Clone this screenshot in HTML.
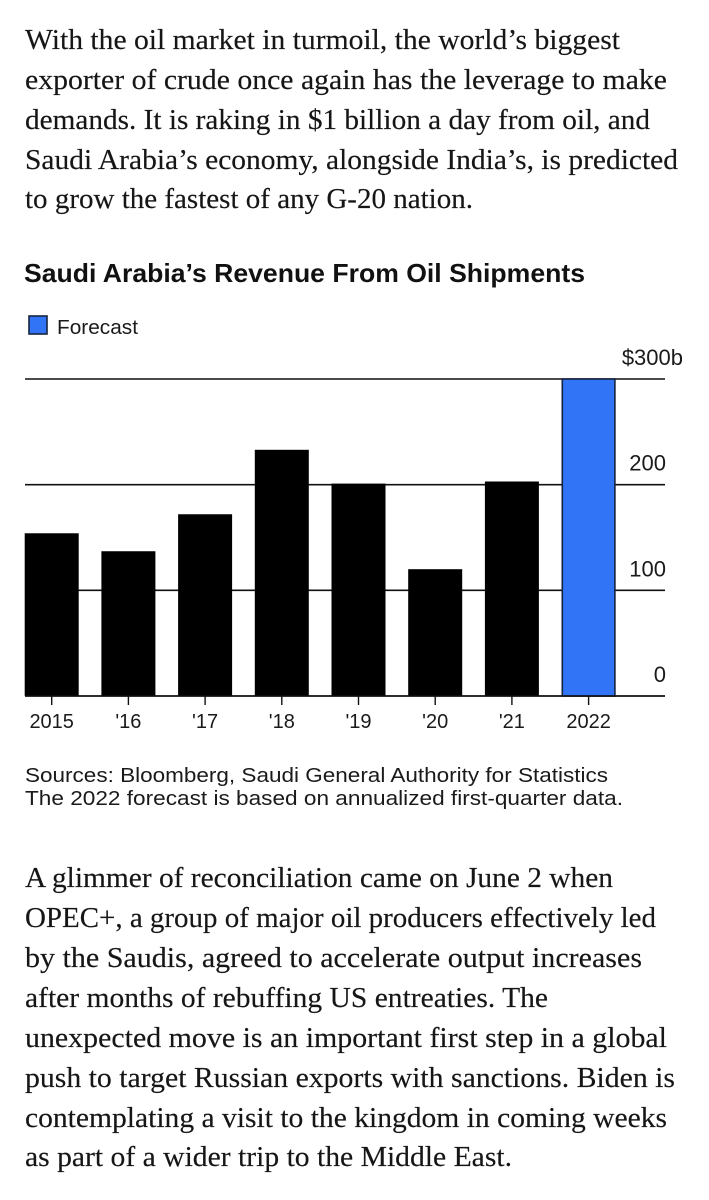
<!DOCTYPE html>
<html lang="en">
<head>
<meta charset="utf-8">
<title>Saudi Arabia's Revenue From Oil Shipments</title>
<style>
html,body{margin:0;padding:0;background:#fff;width:709px;height:1200px;overflow:hidden}
svg{display:block;position:absolute;left:0;top:0}
.prose{font-family:"Liberation Serif",serif;font-size:28px;fill:#161616;stroke:#161616;stroke-width:.15}
.sans{font-family:"Liberation Sans",sans-serif;fill:#1a1a1a}
</style>
</head>
<body>
<svg width="709" height="1200" viewBox="0 0 709 1200" xmlns="http://www.w3.org/2000/svg">
  <g>
    <text class="prose" x="25" y="49" textLength="595" lengthAdjust="spacingAndGlyphs">With the oil market in turmoil, the world’s biggest</text>
    <text class="prose" x="25" y="89" textLength="642" lengthAdjust="spacingAndGlyphs">exporter of crude once again has the leverage to make</text>
    <text class="prose" x="25" y="129" textLength="625" lengthAdjust="spacingAndGlyphs">demands. It is raking in $1 billion a day from oil, and</text>
    <text class="prose" x="25" y="169" textLength="653" lengthAdjust="spacingAndGlyphs">Saudi Arabia’s economy, alongside India’s, is predicted</text>
    <text class="prose" x="25" y="208" textLength="448" lengthAdjust="spacingAndGlyphs">to grow the fastest of any G-20 nation.</text>
  </g>

  <text class="sans" x="24" y="282" font-size="26" font-weight="700" textLength="561" lengthAdjust="spacingAndGlyphs" style="fill:#111">Saudi Arabia’s Revenue From Oil Shipments</text>

  <g>
    <rect x="29" y="316" width="18" height="18" fill="#3274f6" stroke="#16233f" stroke-width="1.6"></rect>
    <text class="sans" x="57" y="334" font-size="20.5" textLength="81" lengthAdjust="spacingAndGlyphs">Forecast</text>
  </g>

  <g id="chart"></g>

  <g>
    <text class="sans" x="25" y="782" font-size="20" textLength="583" lengthAdjust="spacingAndGlyphs">Sources: Bloomberg, Saudi General Authority for Statistics</text>
    <text class="sans" x="25" y="805" font-size="20" textLength="598" lengthAdjust="spacingAndGlyphs">The 2022 forecast is based on annualized first-quarter data.</text>
  </g>

  <g>
    <text class="prose" x="25" y="887" textLength="588" lengthAdjust="spacingAndGlyphs">A glimmer of reconciliation came on June 2 when</text>
    <text class="prose" x="25" y="927" textLength="631" lengthAdjust="spacingAndGlyphs">OPEC+, a group of major oil producers effectively led</text>
    <text class="prose" x="25" y="967" textLength="617" lengthAdjust="spacingAndGlyphs">by the Saudis, agreed to accelerate output increases</text>
    <text class="prose" x="25" y="1007" textLength="523" lengthAdjust="spacingAndGlyphs">after months of rebuffing US entreaties. The</text>
    <text class="prose" x="25" y="1047" textLength="642" lengthAdjust="spacingAndGlyphs">unexpected move is an important first step in a global</text>
    <text class="prose" x="25" y="1087" textLength="650" lengthAdjust="spacingAndGlyphs">push to target Russian exports with sanctions. Biden is</text>
    <text class="prose" x="25" y="1127" textLength="642" lengthAdjust="spacingAndGlyphs">contemplating a visit to the kingdom in coming weeks</text>
    <text class="prose" x="25" y="1166" textLength="487" lengthAdjust="spacingAndGlyphs">as part of a wider trip to the Middle East.</text>
  </g>
</svg>
<script>
var categories = ["2015", "'16", "'17", "'18", "'19", "'20", "'21", "2022"];
var revenue = [154, 137, 172, 233, 201, 120, 203, 300];
var isForecast = [false, false, false, false, false, false, false, true];
var yTicks = [0, 100, 200, 300];
var yTickLabels = ["0", "100", "200", "$300b"];

var NS = 'http://www.w3.org/2000/svg';
var chart = document.getElementById('chart');
var plotLeft = 25, plotRight = 665, plotTop = 379, plotBottom = 696;
var yMax = 300, bandStep = 76.7, barWidth = 54, firstCenter = 51.7;

function yScale(v) { return plotBottom - (v / yMax) * (plotBottom - plotTop); }
function xScale(i) { return firstCenter + i * bandStep; }
function make(tag, attrs) {
  var el = document.createElementNS(NS, tag);
  Object.keys(attrs).forEach(function (k) { el.setAttribute(k, attrs[k]); });
  chart.appendChild(el);
  return el;
}

yTicks.forEach(function (t, i) {
  var y = yScale(t);
  var line = make('line', { x1: plotLeft, x2: plotRight, y1: y, y2: y, stroke: '#111', 'stroke-width': 1.6 });
  
  
  var hasUnit = /[^0-9]$/.test(yTickLabels[i]);
  var label = make('text', { x: hasUnit ? 683 : 666, y: y - 14, 'text-anchor': 'end', 'font-size': 22, 'class': 'sans' });
  label.textContent = yTickLabels[i];
  
  
});

categories.forEach(function (c, i) {
  var x = xScale(i);
  var top = yScale(revenue[i]);
  var bar = make('rect', {
    x: x - barWidth / 2 + (isForecast[i] ? 0.7 : 0),
    y: top,
    width: barWidth - (isForecast[i] ? 1.4 : 0),
    height: plotBottom - top,
    fill: isForecast[i] ? '#3274f6' : '#000',
    stroke: isForecast[i] ? '#16233f' : 'none',
    'stroke-width': isForecast[i] ? 1.6 : 0
  });
  
  
  var tick = make('line', { x1: x, x2: x, y1: plotBottom, y2: plotBottom + 9, stroke: '#111', 'stroke-width': 1.4 });
  
  
  var label = make('text', { x: x, y: 728, 'text-anchor': 'middle', 'font-size': 20, 'class': 'sans' });
  label.textContent = c;
  
  
});

var baseline = make('line', { x1: plotLeft, x2: plotRight, y1: plotBottom, y2: plotBottom, stroke: '#111', 'stroke-width': 1.6 });


</script>
</body>
</html>
